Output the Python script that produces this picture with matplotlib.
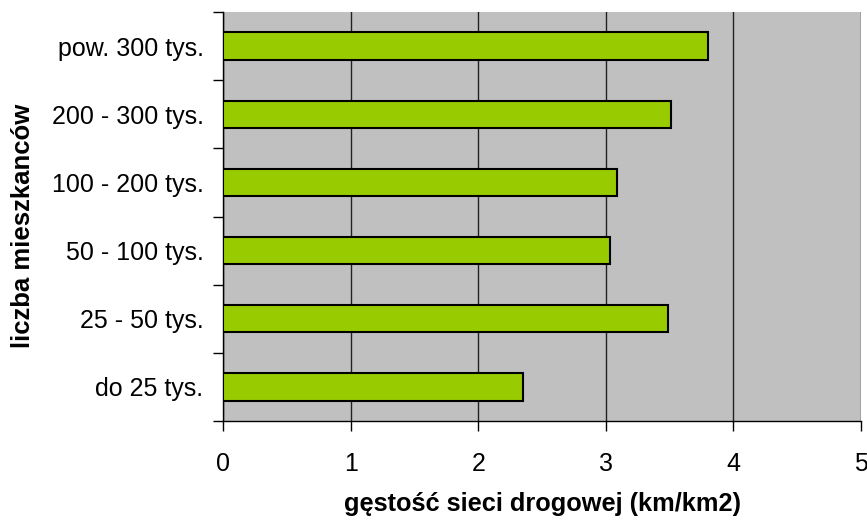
import matplotlib
matplotlib.use("Agg")
import matplotlib.pyplot as plt
import numpy as np

categories = ["do 25 tys.", "25 - 50 tys.", "50 - 100 tys.", "100 - 200 tys.",
              "200 - 300 tys.", "pow. 300 tys."]
values = [2.35, 3.49, 3.03, 3.09, 3.51, 3.80]
x_ticks = [0, 1, 2, 3, 4, 5]

plt.rcParams["font.family"] = ["Liberation Sans", "DejaVu Sans"]

fig = plt.figure(figsize=(8.67, 5.21), dpi=100)
ax = fig.add_axes([223 / 867, 1 - 421 / 521, (861 - 223) / 867, (421 - 12) / 521])

ax.set_facecolor("#C0C0C0")
y = np.arange(len(categories))
ax.barh(y, values, height=0.4, color="#99CC00", edgecolor="black", linewidth=1.5, zorder=3)

ax.set_xlim(0, 5)
ax.set_ylim(-0.5, len(categories) - 0.5)
ax.set_xticks(x_ticks)
ax.set_xticklabels([str(t) for t in x_ticks], fontsize=18)
ax.xaxis.grid(True, color="#222222", linewidth=1.0, zorder=1)
ax.set_axisbelow(True)

# category labels centred on bars, tick marks on category boundaries
ax.set_yticks(y)
ax.set_yticklabels(categories, fontsize=18)
ax.tick_params(axis="y", which="major", length=0, pad=14)
ax.set_yticks(np.arange(-0.5, len(categories), 1.0), minor=True)
ax.tick_params(axis="y", which="minor", length=7, width=1, direction="out")
ax.tick_params(axis="x", length=7, width=1, direction="out", pad=15.5)

for side in ("top", "right"):
    ax.spines[side].set_visible(False)
ax.spines["left"].set_linewidth(1.0)
ax.spines["bottom"].set_linewidth(1.0)

ax.set_xlabel("gęstość sieci drogowej (km/km2)", fontsize=18.3, fontweight="bold")
ax.xaxis.label.set_va("center")
ax.xaxis.set_label_coords(0.5, (421 - 504) / 409)

ax.set_ylabel("liczba mieszkanców", fontsize=18.5, fontweight="bold")
ax.yaxis.label.set_va("center")
ax.yaxis.set_label_coords((23 - 223) / 638, 1 - (226 - 12) / 409)

fig.savefig("out.png", dpi=100)
